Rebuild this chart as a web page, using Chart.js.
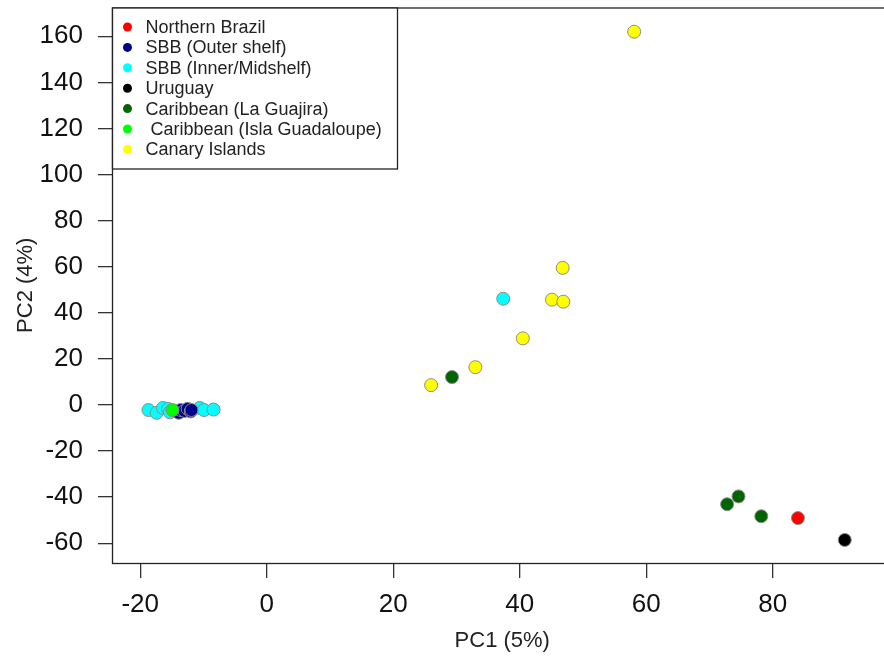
<!DOCTYPE html>
<html>
<head>
<meta charset="utf-8">
<script src="https://cdn.jsdelivr.net/npm/chart.js@4.4.1/dist/chart.umd.min.js"></script>
<style>
  html, body { margin: 0; padding: 0; background: #fff; overflow: hidden; }
  #wrap { width: 900px; height: 661px; }
</style>
</head>
<body>
<div id="wrap"><canvas id="pcaChart" width="900" height="661"></canvas></div>
<script>
// PCA scores, [PC1, PC2] per sample, grouped by region
const northernBrazil = [[84.0, -49.1]];
const sbbOuterShelf = [
  [-14.4, -2.6], [-13.9, -3.4], [-13.6, -2.2], [-13.0, -2.6],
  [-12.5, -1.7], [-12.0, -2.8], [-11.9, -2.2]
];
const sbbInnerMidshelf = [
  [-18.7, -2.2], [-17.4, -3.4], [-16.4, -1.3], [-15.6, -1.7], [-15.3, -3.2],
  [-10.6, -1.3], [-9.9, -2.2], [-8.4, -2.0], [37.4, 46.1]
];
const uruguay = [[91.4, -58.6]];
const caribbeanGuajira = [[29.3, 12.1], [72.8, -43.1], [74.6, -39.7], [78.2, -48.3]];
const caribbeanGuadaloupe = [[-14.9, -2.2]];
const canaryIslands = [
  [58.1, 162.0], [46.8, 59.5], [45.1, 45.7], [46.9, 44.8],
  [40.5, 28.9], [33.0, 16.4], [26.0, 8.6]
];

const groupLabels = [
  "Northern Brazil", "SBB (Outer shelf)", "SBB (Inner/Midshelf)", "Uruguay",
  "Caribbean (La Guajira)", " Caribbean (Isla Guadaloupe)", "Canary Islands"
];
const groupColors = ["#ff0000", "#00008b", "#00ffff", "#000000", "#006400", "#00ff00", "#ffff00"];
const groupData = [
  northernBrazil, sbbOuterShelf, sbbInnerMidshelf, uruguay,
  caribbeanGuajira, caribbeanGuadaloupe, canaryIslands
];
// drawing order: lower value ends up on top
const groupOrder = [3, 1, 2, 3, 3, 0, 3];

const xTicks = [-20, 0, 20, 40, 60, 80];
const yTicks = [-60, -40, -20, 0, 20, 40, 60, 80, 100, 120, 140, 160];

Chart.defaults.font.family = "'Liberation Sans', Arial, sans-serif";
Chart.defaults.color = "#111";

const boxAndLegend = {
  id: "boxAndLegend",
  afterDatasetsDraw(chart) {
    const { ctx, chartArea } = chart;
    ctx.save();
    ctx.strokeStyle = "#222";
    ctx.lineWidth = 1.3;
    ctx.strokeRect(chartArea.left + 0.5, chartArea.top + 0.5,
      chartArea.right - chartArea.left, chartArea.bottom - chartArea.top);

    // legend box in the top-left corner, like R's legend("topleft")
    const lx = chartArea.left + 0.5;
    const ly = chartArea.top + 0.5;
    ctx.fillStyle = "#fff";
    ctx.fillRect(lx, ly, 285, 161);
    ctx.strokeRect(lx, ly, 285, 161);

    ctx.font = "18px 'Liberation Sans', Arial, sans-serif";
    ctx.textBaseline = "middle";
    ctx.textAlign = "left";
    groupLabels.forEach((label, i) => {
      const y = ly + 19 + i * 20.4;
      ctx.beginPath();
      ctx.arc(lx + 15, y, 4.5, 0, Math.PI * 2);
      ctx.fillStyle = groupColors[i];
      ctx.fill();
      ctx.fillStyle = "#222";
      ctx.fillText(label, lx + 33, y + 1);
    });
    ctx.restore();
  }
};

const ctx = document.getElementById("pcaChart").getContext("2d");

new Chart(ctx, {
  type: "scatter",
  data: {
    datasets: groupLabels.map((label, i) => ({
      label: label,
      data: groupData[i].map(([x, y]) => ({ x, y })),
      backgroundColor: groupColors[i],
      borderColor: "#8c8c8c",
      borderWidth: 1,
      pointRadius: 6.5,
      order: groupOrder[i],
    })),
  },
  options: {
    responsive: false,
    animation: false,
    layout: { padding: { top: 5, left: 0, right: 0, bottom: 0 } },
    plugins: {
      legend: { display: false },
      tooltip: { enabled: false },
    },
    scales: {
      x: {
        type: "linear",
        min: -24.46,
        max: 98.95,
        afterBuildTicks: (scale) => {
          scale.ticks = xTicks.map((v) => ({ value: v }));
        },
        afterFit: (scale) => {
          scale.height = 98;
          scale.paddingLeft = 0;
          scale.paddingRight = 0;
        },
        border: { display: false },
        grid: { drawOnChartArea: false, drawTicks: true, tickLength: 15, color: "#333", lineWidth: 1.3 },
        ticks: { font: { size: 26 }, padding: 11, maxRotation: 0, color: "#111" },
        title: { display: true, text: "PC1 (5%)", font: { size: 22 }, padding: { bottom: 7 }, color: "#222" },
      },
      y: {
        type: "linear",
        min: -68.6,
        max: 172.5,
        afterBuildTicks: (scale) => {
          scale.ticks = yTicks.map((v) => ({ value: v }));
        },
        afterFit: (scale) => {
          scale.width = 112;
          scale.paddingTop = 0;
          scale.paddingBottom = 0;
        },
        border: { display: false },
        grid: { drawOnChartArea: false, drawTicks: true, tickLength: 14, color: "#333", lineWidth: 1.3 },
        ticks: { font: { size: 26 }, padding: 15, color: "#111" },
        title: { display: true, text: "PC2 (4%)", font: { size: 22 }, padding: { top: 13 }, color: "#222" },
      },
    },
  },
  plugins: [boxAndLegend],
});
</script>
</body>
</html>
